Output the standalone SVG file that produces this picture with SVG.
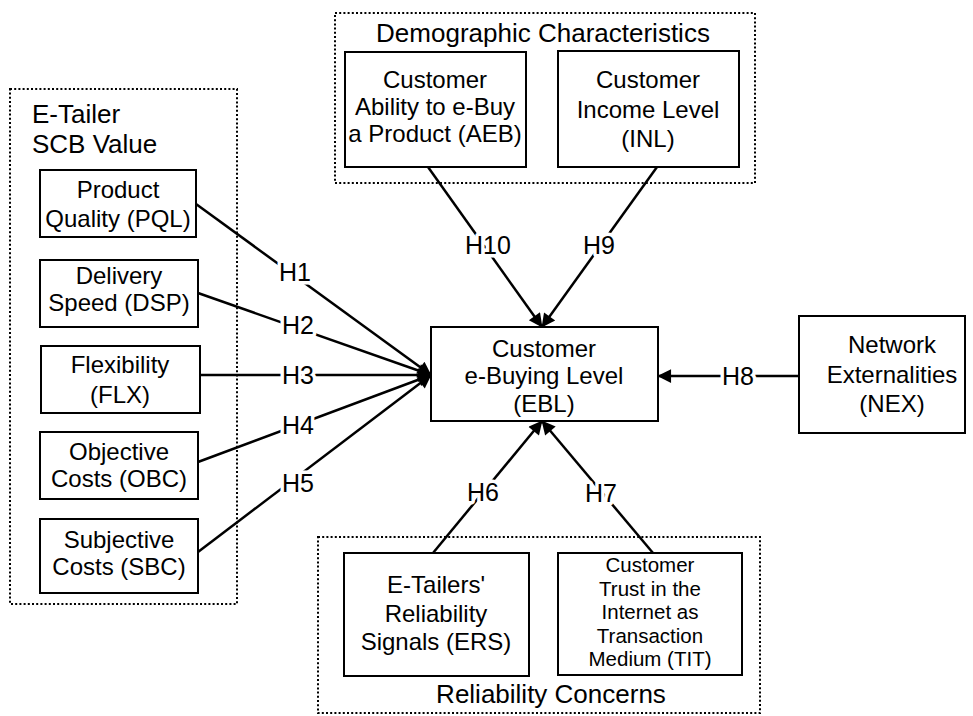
<svg xmlns="http://www.w3.org/2000/svg" width="973" height="716" viewBox="0 0 973 716">
<defs>
<style>
.grp{fill:none;stroke:#000;stroke-width:2;stroke-dasharray:2 2.2}
.box{fill:#fff;stroke:#000;stroke-width:2}
text{font-family:"Liberation Sans",Arial,sans-serif;fill:#000}
.t{font-size:24px;text-anchor:middle}
.tt{font-size:20.5px;text-anchor:middle}
.title{font-size:26px}
.lbl{font-size:25px;text-anchor:middle;stroke:#fff;stroke-width:7;paint-order:stroke;stroke-linejoin:round}
.c{stroke:#000;stroke-width:2.5;fill:none;marker-end:url(#ah)}
</style>
<marker id="ah" viewBox="0 0 10 10" refX="9.5" refY="5" markerWidth="6.5" markerHeight="5.5" markerUnits="strokeWidth" orient="auto">
<path d="M0,0 L10,5 L0,10 z" fill="#000"/>
</marker>
</defs>
<rect width="973" height="716" fill="#fff"/>

<g id="group-etailer">
<rect class="grp" x="10" y="89" width="227" height="515"/>
<text class="title" x="32" y="123">E-Tailer</text>
<text class="title" x="32" y="153">SCB Value</text>
</g>
<g id="group-demographic">
<rect class="grp" x="335" y="13" width="420" height="170"/>
<text class="title" x="543" y="42" text-anchor="middle">Demographic Characteristics</text>
</g>
<g id="group-reliability">
<rect class="grp" x="318" y="537" width="442" height="176"/>
<text class="title" x="551" y="703" text-anchor="middle">Reliability Concerns</text>
</g>

<g id="connectors">
<line class="c" x1="196" y1="204" x2="431" y2="375"/>
<line class="c" x1="198" y1="293" x2="431" y2="375"/>
<line class="c" x1="200" y1="375" x2="431" y2="375"/>
<line class="c" x1="198" y1="462" x2="431" y2="375"/>
<line class="c" x1="198" y1="552" x2="431" y2="375"/>
<line class="c" x1="428" y1="167" x2="542" y2="327"/>
<line class="c" x1="657" y1="167" x2="542" y2="327"/>
<line class="c" x1="433" y1="553" x2="542" y2="421"/>
<line class="c" x1="653" y1="553" x2="542" y2="421"/>
<line class="c" x1="799" y1="376" x2="658" y2="376"/>
<text class="lbl" x="295" y="281">H1</text>
<text class="lbl" x="298" y="334">H2</text>
<text class="lbl" x="298" y="384">H3</text>
<text class="lbl" x="298" y="434">H4</text>
<text class="lbl" x="298" y="492">H5</text>
<text class="lbl" x="488" y="254">H10</text>
<text class="lbl" x="599" y="254">H9</text>
<text class="lbl" x="483" y="501">H6</text>
<text class="lbl" x="601" y="502">H7</text>
<text class="lbl" x="738" y="385">H8</text>
</g>

<g id="PQL">
<rect class="box" x="40" y="170" width="156" height="67"/>
<text class="t" x="118" y="198">Product</text>
<text class="t" x="118" y="227">Quality (PQL)</text>
</g>
<g id="DSP">
<rect class="box" x="40" y="260" width="158" height="67"/>
<text class="t" x="119" y="284">Delivery</text>
<text class="t" x="119" y="311">Speed (DSP)</text>
</g>
<g id="FLX">
<rect class="box" x="41" y="346" width="159" height="67"/>
<text class="t" x="120" y="373">Flexibility</text>
<text class="t" x="120" y="403">(FLX)</text>
</g>
<g id="OBC">
<rect class="box" x="40" y="432" width="158" height="67"/>
<text class="t" x="119" y="460">Objective</text>
<text class="t" x="119" y="487">Costs (OBC)</text>
</g>
<g id="SBC">
<rect class="box" x="40" y="519" width="158" height="74"/>
<text class="t" x="119" y="548">Subjective</text>
<text class="t" x="119" y="575">Costs (SBC)</text>
</g>

<g id="AEB">
<rect class="box" x="345" y="52" width="181" height="115"/>
<text class="t" x="435" y="88">Customer</text>
<text class="t" x="435" y="115">Ability to e-Buy</text>
<text class="t" x="435" y="142">a Product (AEB)</text>
</g>
<g id="INL">
<rect class="box" x="558" y="51" width="181" height="116"/>
<text class="t" x="648" y="88">Customer</text>
<text class="t" x="648" y="118">Income Level</text>
<text class="t" x="648" y="147">(INL)</text>
</g>

<g id="EBL">
<rect class="box" x="431" y="327" width="227" height="94"/>
<text class="t" x="544" y="357">Customer</text>
<text class="t" x="544" y="384">e-Buying Level</text>
<text class="t" x="544" y="412">(EBL)</text>
</g>

<g id="NEX">
<rect class="box" x="799" y="316" width="166" height="117"/>
<text class="t" x="892" y="353">Network</text>
<text class="t" x="892" y="383">Externalities</text>
<text class="t" x="892" y="412">(NEX)</text>
</g>

<g id="ERS">
<rect class="box" x="344" y="553" width="185" height="123"/>
<text class="t" x="436" y="593">E-Tailers'</text>
<text class="t" x="436" y="622">Reliability</text>
<text class="t" x="436" y="650">Signals (ERS)</text>
</g>
<g id="TIT">
<rect class="box" x="558" y="553" width="184" height="122"/>
<text class="tt" x="650" y="572">Customer</text>
<text class="tt" x="650" y="595.5">Trust in the</text>
<text class="tt" x="650" y="619">Internet as</text>
<text class="tt" x="650" y="642.5">Transaction</text>
<text class="tt" x="650" y="666">Medium (TIT)</text>
</g>
</svg>
